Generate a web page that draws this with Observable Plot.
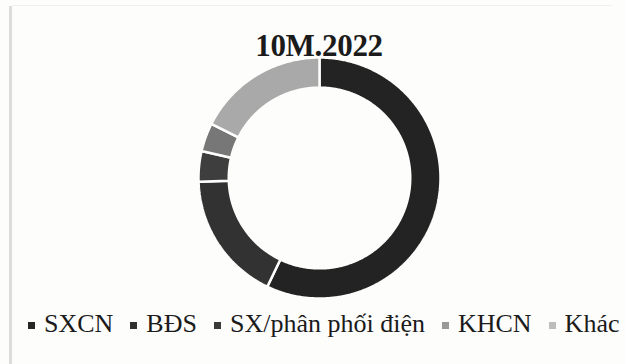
<!DOCTYPE html>
<html>
<head>
<meta charset="utf-8">
<script src="https://cdn.jsdelivr.net/npm/d3@7"></script>
<script src="https://cdn.jsdelivr.net/npm/@observablehq/plot@0.6"></script>
<style>
  html, body { margin: 0; padding: 0; background: #fdfdfc; }
  #wrap { position: relative; width: 626px; height: 364px; overflow: hidden; font-family: "Liberation Serif", "Times New Roman", serif; color: #1b1b1b; }
  #edgeL { position: absolute; left: 9px; top: 6px; width: 3px; height: 360px; background: #dcdcdc; }
  #edgeT { position: absolute; left: 12px; top: 5px; width: 600px; height: 1px; background: #f0f0f0; }
  #title { position: absolute; left: 0; top: 30px; width: 638px; text-align: center; font-weight: bold; font-size: 31px; line-height: 31px; letter-spacing: -0.3px; z-index: 2; }
  #chart { position: absolute; left: 0; top: 55px; }
  #legend { position: absolute; left: 28px; top: 309px; white-space: nowrap; font-size: 26px; line-height: 30px; }
  .item { display: inline-block; margin-right: 17px; }
  .sw { display: inline-block; width: 7px; height: 7px; margin-right: 9px; vertical-align: 3px; }
</style>
</head>
<body>
<div id="wrap">
  <div id="edgeL"></div>
  <div id="edgeT"></div>
  <div id="title"></div>
  <div id="chart"></div>
  <div id="legend"></div>
</div>
<script>
const title = "10M.2022";
const categories = ["SXCN", "BĐS", "SX/phân phối điện", "KHCN", "Khác"];
const shares = [57.1, 17.4, 4.1, 3.8, 17.6];
const colors = ["#232323", "#323232", "#3e3e3e", "#777777", "#a9a9a9"];
const legendColors = ["#262626", "#303030", "#3a3a3a", "#999999", "#bdbdbd"];

const rows = categories.map((c, i) => ({cat: c, share: shares[i]}));
const arcs = d3.pie().sort(null).value(d => d.share)(rows);

const R = 1, r = 0.75;
const pts = [];
for (const a of arcs) {
  const n = Math.max(4, Math.ceil((a.endAngle - a.startAngle) / 0.01));
  for (let k = 0; k <= n; k++) {
    const t = a.startAngle + (a.endAngle - a.startAngle) * k / n;
    pts.push({cat: a.data.cat, x: R * Math.sin(t), y: R * Math.cos(t)});
  }
  for (let k = n; k >= 0; k--) {
    const t = a.startAngle + (a.endAngle - a.startAngle) * k / n;
    pts.push({cat: a.data.cat, x: r * Math.sin(t), y: r * Math.cos(t)});
  }
  pts.push({cat: a.data.cat, x: R * Math.sin(a.startAngle), y: R * Math.cos(a.startAngle)});
}

const plot = Plot.plot({
  width: 626,
  height: 245,
  marginTop: 2,
  marginBottom: 2,
  marginLeft: 198,
  marginRight: 186,
  x: {domain: [-1, 1], axis: null},
  y: {domain: [-1, 1], axis: null},
  color: {domain: categories, range: colors},
  style: {background: "transparent"},
  marks: [
    Plot.line(pts, {x: "x", y: "y", z: "cat", fill: "cat", stroke: "#fdfdfc", strokeWidth: 2.5, strokeLinejoin: "miter"})
  ]
});
document.getElementById("chart").appendChild(plot);
document.getElementById("title").textContent = title;

const leg = document.getElementById("legend");
categories.forEach((c, i) => {
  const it = document.createElement("span");
  it.className = "item";
  const sw = document.createElement("span");
  sw.className = "sw";
  sw.style.background = legendColors[i];
  it.appendChild(sw);
  it.appendChild(document.createTextNode(c));
  leg.appendChild(it);
});
</script>
</body>
</html>
